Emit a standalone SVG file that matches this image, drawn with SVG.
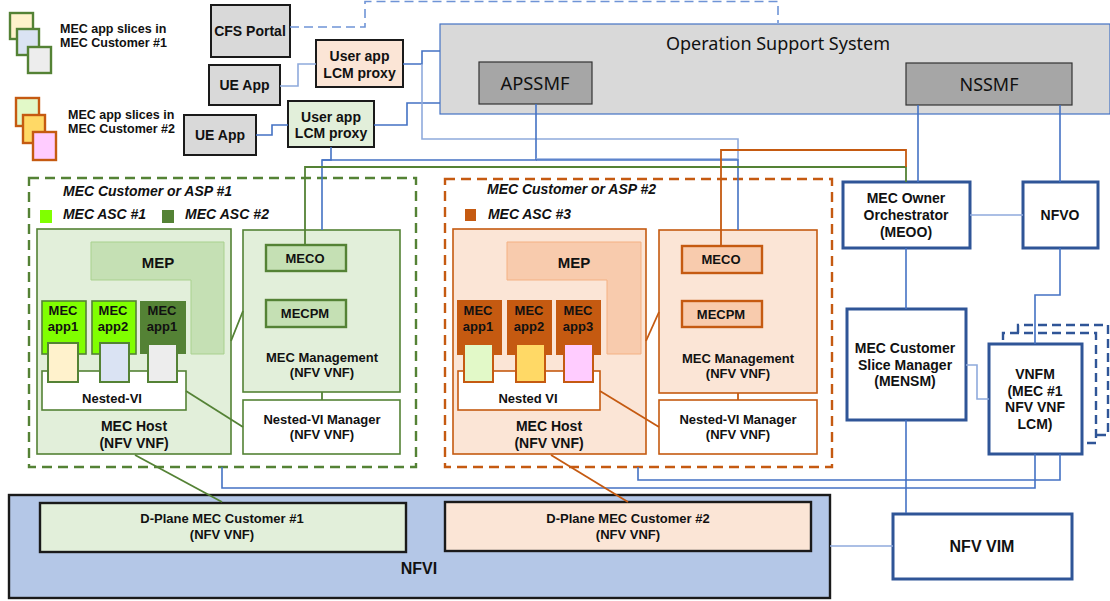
<svg xmlns="http://www.w3.org/2000/svg" width="1110" height="601" viewBox="0 0 1110 601">
<style>
text{font-family:"Liberation Sans",Arial,sans-serif;font-weight:bold;fill:#111;text-anchor:middle}
.s12{font-size:12.500px}.s13{font-size:13px}.s14{font-size:14px}.s15{font-size:15px}.s16{font-size:16px}
.it{font-style:italic;text-anchor:start;font-size:14px}
.thin{font-family:"Noto Sans","Open Sans",sans-serif;font-weight:normal;font-size:18px}
.c{fill:none}
.b{stroke:#4472c4;stroke-width:1.6}
.lb{stroke:#8faadc;stroke-width:1.6}
.g{stroke:#548235;stroke-width:1.8}
.o{stroke:#c55a11;stroke-width:1.8}
.gbox{fill:#e2efda;stroke:#548235;stroke-width:1.6}
.obox{fill:#fbe5d6;stroke:#c55a11;stroke-width:1.6}
.gwh{fill:#fff;stroke:#548235;stroke-width:1.6}
.owh{fill:#fff;stroke:#c55a11;stroke-width:1.6}
.gm{fill:#c5e0b4;stroke:#548235;stroke-width:2.4}
.om{fill:#f8cbad;stroke:#c55a11;stroke-width:2.4}
.blk{fill:#d9d9d9;stroke:#1a1a1a;stroke-width:2}
.nb{fill:#fff;stroke:#2f5597;stroke-width:3}
</style>
<g id="legend-customer-1">
<rect x="10" y="13" width="23" height="26" fill="#fff2cc" stroke="#548235" stroke-width="2.400"/>
<rect x="17" y="29" width="22" height="26" fill="#dae3f3" stroke="#548235" stroke-width="2.400"/>
<rect x="28" y="47" width="23" height="26" fill="#ededed" stroke="#548235" stroke-width="2.400"/>
<text class="s12" x="60" y="33" style="text-anchor:start">MEC app slices in</text>
<text class="s12" x="60" y="47" style="text-anchor:start">MEC Customer #1</text>
</g>
<g id="legend-customer-2">
<rect x="16" y="98" width="23" height="28" fill="#e2f9c8" stroke="#c55a11" stroke-width="2.400"/>
<rect x="23" y="115" width="22" height="28" fill="#ffd966" stroke="#c55a11" stroke-width="2.400"/>
<rect x="33" y="132" width="23" height="28" fill="#ffccff" stroke="#c55a11" stroke-width="2.400"/>
<text class="s12" x="68" y="119" style="text-anchor:start">MEC app slices in</text>
<text class="s12" x="68" y="133" style="text-anchor:start">MEC Customer #2</text>
</g>
<g id="cfs-portal"><rect class="blk" x="211" y="5" width="79" height="52"/><text class="s14" x="250" y="36">CFS Portal</text></g>
<g id="ue-app-1"><rect class="blk" x="209" y="65" width="71" height="40"/><text class="s14" x="244.500" y="90">UE App</text></g>
<g id="ue-app-2"><rect class="blk" x="184" y="115" width="72" height="40"/><text class="s14" x="220" y="140">UE App</text></g>
<g id="user-app-proxy-1"><rect x="316" y="40" width="87" height="47" fill="#fbe5d6" stroke="#1a1a1a" stroke-width="2"/><text class="s14" x="359.500" y="61">User app</text><text class="s14" x="359.500" y="78">LCM proxy</text></g>
<g id="user-app-proxy-2"><rect x="288" y="101" width="86" height="46" fill="#e2efda" stroke="#1a1a1a" stroke-width="2"/><text class="s14" x="331" y="122">User app</text><text class="s14" x="331" y="138">LCM proxy</text></g>
<g id="oss">
<rect x="440" y="24" width="670" height="90" fill="#d9d9d9" stroke="#4472c4" stroke-width="1.200"/>
<text class="thin" x="778" y="50" textLength="224" lengthAdjust="spacingAndGlyphs">Operation Support System</text>
</g>
<g id="apssmf"><rect x="479" y="62" width="113" height="42" fill="#a6a6a6" stroke="#333" stroke-width="1.200"/><text class="thin" x="535" y="90" textLength="69" lengthAdjust="spacingAndGlyphs">APSSMF</text></g>
<g id="nssmf"><rect x="906" y="63" width="166" height="42" fill="#a6a6a6" stroke="#333" stroke-width="1.200"/><text class="thin" x="989" y="91" textLength="59" lengthAdjust="spacingAndGlyphs">NSSMF</text></g>
<g id="customer-1">
<rect x="29" y="178" width="387" height="289" fill="none" stroke="#548235" stroke-width="2.400" stroke-dasharray="10 6"/>
<text class="it" x="63" y="196" textLength="169" lengthAdjust="spacing">MEC Customer or ASP #1</text>
<rect x="40" y="210" width="12" height="13" fill="#80ff00"/>
<text class="it" x="63" y="219" textLength="83" lengthAdjust="spacing">MEC ASC #1</text>
<rect x="162" y="210" width="12" height="13" fill="#548235"/>
<text class="it" x="185" y="219" textLength="84" lengthAdjust="spacing">MEC ASC #2</text>
</g>
<g id="mec-host-1">
<rect class="gbox" x="37" y="229" width="194" height="225"/>
<path d="M91 242H224V354H191V280H91Z" fill="#c5e0b4" stroke="#a9d18e" stroke-width="1"/>
<text class="s15" x="158" y="268">MEP</text>
<rect x="42" y="301" width="44" height="53" fill="#80ff00" stroke="#548235" stroke-width="1.600"/>
<rect x="92" y="301" width="44" height="53" fill="#80ff00" stroke="#548235" stroke-width="1.600"/>
<rect x="140" y="301" width="46" height="53" fill="#548235"/>
<text class="s13" x="63" y="315">MEC</text><text class="s13" x="63" y="331">app1</text>
<text class="s13" x="113" y="315">MEC</text><text class="s13" x="113" y="331">app2</text>
<text class="s13" x="162" y="315">MEC</text><text class="s13" x="162" y="331">app1</text>
<rect class="gwh" x="42" y="371" width="144" height="39"/>
<rect x="48" y="343" width="30" height="39" fill="#fff2cc" stroke="#548235" stroke-width="2"/>
<rect x="100" y="343" width="29" height="39" fill="#dae3f3" stroke="#548235" stroke-width="2"/>
<rect x="148" y="344" width="29" height="38" fill="#ededed" stroke="#548235" stroke-width="2"/>
<text class="s13" x="112" y="403">Nested-VI</text>
<text class="s14" x="134" y="431">MEC Host</text><text class="s14" x="134" y="448">(NFV VNF)</text>
</g>
<g id="mec-mgmt-1">
<rect class="gbox" x="243" y="230" width="157" height="162"/>
<rect class="gm" x="266" y="245" width="80" height="26"/><text class="s13" x="305" y="263">MECO</text>
<rect class="gm" x="266" y="300" width="80" height="27"/><text class="s13" x="305" y="318">MECPM</text>
<text class="s13" x="322" y="362">MEC Management</text><text class="s13" x="322" y="377">(NFV VNF)</text>
</g>
<g id="nested-vi-mgr-1"><rect class="gwh" x="243" y="400" width="157" height="54"/><text class="s13" x="322" y="424">Nested-VI Manager</text><text class="s13" x="322" y="439">(NFV VNF)</text></g>
<g id="customer-2">
<rect x="445" y="179" width="387" height="288" fill="none" stroke="#c55a11" stroke-width="2.400" stroke-dasharray="10 6"/>
<text class="it" x="487" y="194" textLength="169" lengthAdjust="spacing">MEC Customer or ASP #2</text>
<rect x="465" y="209" width="11" height="12" fill="#c55a11"/>
<text class="it" x="488" y="219" textLength="83" lengthAdjust="spacing">MEC ASC #3</text>
</g>
<g id="mec-host-2">
<rect class="obox" x="453" y="229" width="193" height="225"/>
<path d="M507 242H641V354H607V280H507Z" fill="#f8cbad" stroke="#f4b183" stroke-width="1"/>
<text class="s15" x="574" y="268">MEP</text>
<rect x="457" y="300" width="45" height="55" fill="#c55a11"/>
<rect x="507" y="300" width="45" height="55" fill="#c55a11"/>
<rect x="556" y="300" width="45" height="55" fill="#c55a11"/>
<text class="s13" x="478" y="315">MEC</text><text class="s13" x="478" y="331">app1</text>
<text class="s13" x="529" y="315">MEC</text><text class="s13" x="529" y="331">app2</text>
<text class="s13" x="578" y="315">MEC</text><text class="s13" x="578" y="331">app3</text>
<rect class="owh" x="458" y="371" width="142" height="39"/>
<rect x="464" y="344" width="29" height="38" fill="#e2f9c8" stroke="#c55a11" stroke-width="2"/>
<rect x="516" y="344" width="29" height="38" fill="#ffd966" stroke="#c55a11" stroke-width="2"/>
<rect x="564" y="344" width="29" height="38" fill="#ffccff" stroke="#c55a11" stroke-width="2"/>
<text class="s13" x="528" y="403">Nested VI</text>
<text class="s14" x="549" y="431">MEC Host</text><text class="s14" x="549" y="448">(NFV VNF)</text>
</g>
<g id="mec-mgmt-2">
<rect class="obox" x="659" y="230" width="158" height="163"/>
<rect class="om" x="682" y="246" width="80" height="27"/><text class="s13" x="721" y="264">MECO</text>
<rect class="om" x="682" y="301" width="80" height="26"/><text class="s13" x="721" y="319">MECPM</text>
<text class="s13" x="738" y="363">MEC Management</text><text class="s13" x="738" y="378">(NFV VNF)</text>
</g>
<g id="nested-vi-mgr-2"><rect class="owh" x="659" y="400" width="158" height="54"/><text class="s13" x="738" y="424">Nested-VI Manager</text><text class="s13" x="738" y="439">(NFV VNF)</text></g>
<g id="meoo"><rect class="nb" x="843" y="182" width="127" height="66"/><text class="s14" x="906" y="203">MEC Owner</text><text class="s14" x="906" y="220">Orchestrator</text><text class="s14" x="906" y="237">(MEOO)</text></g>
<g id="nfvo"><rect class="nb" x="1023" y="182" width="75" height="66"/><text class="s14" x="1060" y="220">NFVO</text></g>
<g id="mensm"><rect class="nb" x="847" y="309" width="119" height="111"/><text class="s14" x="905" y="353">MEC Customer</text><text class="s14" x="905" y="370">Slice Manager</text><text class="s14" x="905" y="386">(MENSM)</text></g>
<g id="vnfm">
<path d="M1018 333V325H1108V435H1096" fill="none" stroke="#2f5597" stroke-width="2.400" stroke-dasharray="9 5"/>
<path d="M1003 340V333H1096V443H1087" fill="none" stroke="#2f5597" stroke-width="2.400" stroke-dasharray="9 5"/>
<rect class="nb" x="989" y="344" width="93" height="110"/>
<text class="s14" x="1035" y="379">VNFM</text><text class="s14" x="1035" y="396">(MEC #1</text><text class="s14" x="1035" y="412">NFV VNF</text><text class="s14" x="1035" y="429">LCM)</text>
</g>
<g id="nfvi">
<rect x="9" y="495" width="821" height="103" fill="#b4c7e7" stroke="#1a1a1a" stroke-width="2.400"/>
<text class="s16" x="419" y="574">NFVI</text>
</g>
<g id="dplane-1"><rect x="40" y="503" width="366" height="49" fill="#e2efda" stroke="#1a1a1a" stroke-width="2.400"/><text class="s13" x="222" y="523">D-Plane MEC Customer #1</text><text class="s13" x="222" y="539">(NFV VNF)</text></g>
<g id="dplane-2"><rect x="445" y="502" width="366" height="49" fill="#fbe5d6" stroke="#1a1a1a" stroke-width="2.400"/><text class="s13" x="628" y="523">D-Plane MEC Customer #2</text><text class="s13" x="628" y="539">(NFV VNF)</text></g>
<g id="nfv-vim"><rect class="nb" x="893" y="514" width="179" height="65"/><text class="s16" x="982" y="552">NFV VIM</text></g>
<g id="connectors">
<path class="c lb" d="M280 86H298V64H316"/>
<path class="c b" d="M256 135H272V125H288"/>
<path class="c b" d="M403 64H422V51H440"/>
<path class="c b" d="M374 125H407V103H440"/>
<path class="c lb" d="M422 64V139H738V160"/>
<path class="c" d="M290 27H365V1.500H778V23" stroke="#6f94d6" stroke-width="1.600" stroke-dasharray="9 5"/>
<path class="c b" d="M331 147V160H322V230"/>
<path class="c b" d="M322 160H536V104"/>
<path class="c lb" d="M536 159H738"/>
<path class="c b" d="M536 160H738V230"/>
<path class="c g" d="M305 245V167H906V182"/>
<path class="c o" d="M721 246V150H906V167"/>
<path class="c b" d="M918 105V182"/>
<path class="c b" d="M1060 105V182"/>
<path class="c lb" d="M970 215H1023"/>
<path class="c b" d="M906 248V309"/>
<path class="c b" d="M1060 248V295H1035V344"/>
<path class="c lb" d="M966 365H977V399H989"/>
<path class="c b" d="M906 420V513"/>
<path class="c b" d="M1035 454V488H222V467"/>
<path class="c b" d="M1060 454V480H638V467"/>
<path class="c lb" d="M830 546H893"/>
<path class="c g" d="M231 341L243 311"/>
<path class="c g" d="M186 391L243 427"/>
<path class="c g" d="M322 392V400"/>
<path class="c o" d="M646 341L659 312"/>
<path class="c o" d="M600 391L659 427"/>
<path class="c o" d="M738 393V400"/>
<path class="c g" d="M135 455L222 502"/>
<path class="c o" d="M551 455L628 502"/>
</g>
</svg>
